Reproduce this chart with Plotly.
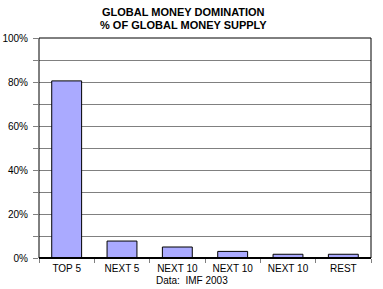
import plotly.graph_objects as go

categories = ["TOP 5", "NEXT 5", "NEXT 10", "NEXT 10", "NEXT 10", "REST"]
values = [80.5, 7.7, 5.0, 3.0, 1.7, 1.7]
y_ticks = [0, 20, 40, 60, 80, 100]
y_tick_labels = ["0%", "20%", "40%", "60%", "80%", "100%"]
title_lines = ["GLOBAL MONEY DOMINATION", "% OF GLOBAL MONEY SUPPLY"]
source_note = "Data:  IMF 2003"

FONT = "Liberation Sans, Arial, sans-serif"
positions = list(range(len(categories)))

fig = go.Figure()
fig.add_trace(go.Bar(
    x=positions, y=values, width=0.54,
    marker=dict(color="#AAAAFF", line=dict(color="black", width=1)),
    hoverinfo="skip",
))

fig.update_layout(
    width=383, height=289,
    margin=dict(l=39, r=12, t=38, b=31),
    paper_bgcolor="white", plot_bgcolor="white",
    font=dict(family=FONT, size=10, color="black"),
    showlegend=False,
    xaxis=dict(
        range=[-0.5, len(categories) - 0.5],
        tickmode="array", tickvals=positions, ticktext=categories,
        ticks="", showgrid=False, zeroline=False, showline=False,
        tickfont=dict(family=FONT, size=10, color="black"),
        ticklabelstandoff=3, automargin=False,
        minor=dict(tick0=0.5, dtick=1, ticks="outside", ticklen=4,
                   tickcolor="#808080", tickwidth=1, showgrid=False),
        fixedrange=True,
    ),
    yaxis=dict(
        range=[0, 100], tickmode="array", tickvals=y_ticks,
        ticktext=y_tick_labels, automargin=False, ticklabelstandoff=3,
        ticks="outside", ticklen=5, tickcolor="#808080",
        showgrid=True, gridcolor="#808080", gridwidth=1,
        zeroline=False, showline=False,
        tickfont=dict(family=FONT, size=10, color="black"),
        minor=dict(dtick=10, tick0=0, ticks="outside", ticklen=5,
                   tickcolor="#808080", showgrid=True,
                   gridcolor="#808080", gridwidth=1),
        fixedrange=True,
    ),
)

# plot frame
fig.add_shape(type="rect", xref="x domain", yref="y domain",
              x0=0, x1=1, y0=0, y1=1, line=dict(color="black", width=1))
fig.add_shape(type="line", xref="x domain", yref="y domain",
              x0=0, x1=1, y0=0, y1=0, line=dict(color="black", width=2))

# title lines
for line, ypix in zip(title_lines, [12.5, 25]):
    fig.add_annotation(text="<b>" + line + "</b>", xref="paper", yref="paper",
                       x=(183 - 39) / 332, y=1 + (38 - ypix) / 220,
                       xanchor="center", yanchor="middle", showarrow=False,
                       font=dict(family=FONT, size=11, color="black"))

fig.add_annotation(text=source_note, xref="paper", yref="paper",
                   x=(191.5 - 39) / 332, y=(258 - 280) / 220,
                   xanchor="center", yanchor="middle", showarrow=False,
                   font=dict(family=FONT, size=10, color="black"))

fig.write_html("out.html")
